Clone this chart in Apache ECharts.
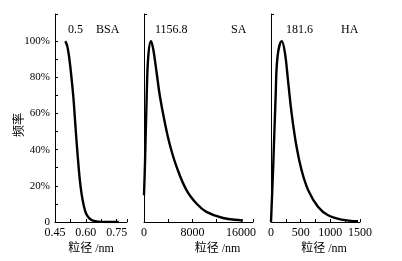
<!DOCTYPE html>
<html>
<head>
<meta charset="utf-8">
<script src="https://cdn.jsdelivr.net/npm/echarts@6/dist/echarts.min.js"></script>
<style>
  html, body { margin: 0; padding: 0; background: #fff; }
  #chart { width: 402px; height: 261px; }
</style>
</head>
<body>
<div id="chart"></div>
<script>
  // 粒径分布数据
  const bsaSize = [0.50, 0.51, 0.52, 0.53, 0.54, 0.55, 0.56, 0.57, 0.58, 0.59, 0.60, 0.61, 0.62, 0.63, 0.64, 0.66, 0.70, 0.76];
  const bsaFreq = [1.00, 0.97, 0.90, 0.80, 0.68, 0.52, 0.37, 0.24, 0.15, 0.09, 0.05, 0.03, 0.018, 0.01, 0.006, 0.002, 0, 0];

  const saSize = [0, 164, 444, 710, 1157, 1535, 2090, 2632, 3454, 4276, 5372, 7016, 8660, 10300, 13050, 16060, 16330];
  const saFreq = [0.148, 0.324, 0.694, 0.917, 1.00, 0.954, 0.824, 0.694, 0.547, 0.426, 0.306, 0.176, 0.102, 0.056, 0.022, 0.009, 0.008];

  const haSize = [0, 39, 78, 111, 182, 235, 291, 347, 430, 515, 627, 795, 963, 1187, 1466];
  const haFreq = [0, 0.324, 0.694, 0.917, 1.00, 0.935, 0.769, 0.602, 0.417, 0.287, 0.176, 0.083, 0.037, 0.013, 0.004];

  // 刻度
  const freqTicks = [0, 0.1, 0.2, 0.3, 0.4, 0.5, 0.6, 0.7, 0.8, 0.9, 1.0, 1.15];
  const freqLabels = [0, 0.2, 0.4, 0.6, 0.8, 1.0];
  const bsaTicks = [0.45, 0.525, 0.6, 0.675, 0.75, 0.8];
  const bsaLabels = [0.45, 0.6, 0.75];
  const saTicks = [0, 4000, 8000, 12000, 16000, 18000];
  const saLabels = [0, 8000, 16000];
  const haTicks = [0, 250, 500, 750, 1000, 1250, 1500];
  const haLabels = [0, 500, 1000, 1500];

  // 标注文字
  const peakTexts = ['0.5', '1156.8', '181.6'];
  const sampleNames = ['BSA', 'SA', 'HA'];

  const FONT = "'Liberation Serif', 'Times New Roman', 'Noto Sans CJK SC', serif";
  const BLACK = '#000';

  const pairs = (xs, ys) => xs.map((x, i) => [x, ys[i]]);

  function xAxis(idx, min, max, ticks, labels, fmt, namePad) {
    return {
      type: 'value',
      gridIndex: idx,
      min: min,
      max: max,
      name: '粒径 /nm',
      nameLocation: 'middle',
      nameGap: 21,
      nameMoveOverlap: false,
      nameTextStyle: {color: BLACK, fontFamily: FONT, fontSize: 12, padding: [0, 0, 0, namePad]},
      axisLine: {show: true, lineStyle: {color: BLACK, width: 1}},
      axisTick: {show: true, inside: true, length: 3, customValues: ticks, lineStyle: {color: BLACK}},
      axisLabel: {color: BLACK, fontFamily: FONT, fontSize: 12, margin: 5, customValues: labels, formatter: fmt},
      splitLine: {show: false}
    };
  }

  function yAxis(idx, showLabels) {
    return {
      type: 'value',
      gridIndex: idx,
      min: 0,
      max: 1.15,
      name: showLabels ? '频率' : '',
      nameLocation: 'middle',
      nameGap: 29,
      nameMoveOverlap: false,
      nameTextStyle: {color: BLACK, fontFamily: FONT, fontSize: 12, padding: [0, 0, 0, -14]},
      axisLine: {show: true, lineStyle: {color: BLACK, width: 1}},
      axisTick: {show: true, inside: true, length: 3, customValues: showLabels ? freqTicks : [1.15], lineStyle: {color: BLACK}},
      axisLabel: {
        show: showLabels,
        color: BLACK, fontFamily: FONT, fontSize: 11, margin: 5,
        customValues: freqLabels,
        formatter: v => v === 0 ? '0' : Math.round(v * 100) + '%'
      },
      splitLine: {show: false}
    };
  }

  function curve(idx, data) {
    return {
      type: 'line',
      xAxisIndex: idx,
      yAxisIndex: idx,
      data: data,
      smooth: 0.4,
      showSymbol: false,
      lineStyle: {color: BLACK, width: 2.4},
      animation: false
    };
  }

  const chart = echarts.init(document.getElementById('chart'), null, {renderer: 'canvas'});

  // 每个面板的标注位置
  const textSpots = [[68, 96], [155, 231], [286, 341]];
  const graphics = [];
  textSpots.forEach((spot, i) => {
    graphics.push({type: 'text', left: spot[0], top: 24, style: {text: peakTexts[i], fill: BLACK, font: '12px ' + FONT}});
    graphics.push({type: 'text', left: spot[1], top: 24, style: {text: sampleNames[i], fill: BLACK, font: '12px ' + FONT}});
  });

  chart.setOption({
    backgroundColor: '#fff',
    grid: [
      {left: 55, top: 14, width: 72, bottom: 39},
      {left: 144, top: 14, width: 109, bottom: 39},
      {left: 271, top: 14, width: 89, bottom: 39}
    ],
    xAxis: [
      xAxis(0, 0.45, 0.8, bsaTicks, bsaLabels, v => v.toFixed(2), 0),
      xAxis(1, 0, 18000, saTicks, saLabels, v => String(v), 38),
      xAxis(2, 0, 1500, haTicks, haLabels, v => String(v), 17)
    ],
    yAxis: [yAxis(0, true), yAxis(1, false), yAxis(2, false)],
    series: [
      curve(0, pairs(bsaSize, bsaFreq)),
      curve(1, pairs(saSize, saFreq)),
      curve(2, pairs(haSize, haFreq))
    ],
    graphic: graphics
  });
</script>
</body>
</html>
